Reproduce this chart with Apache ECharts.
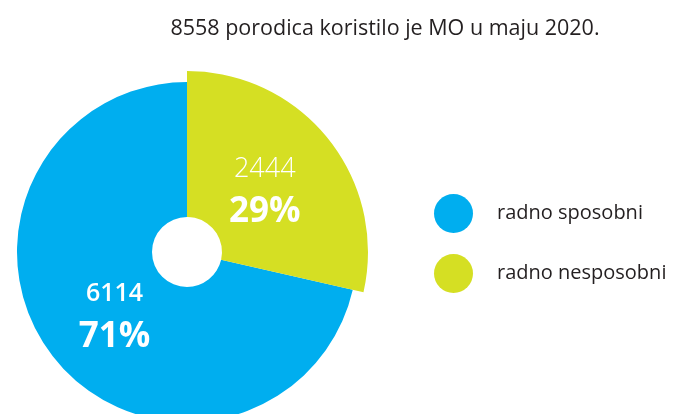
<!DOCTYPE html>
<html>
<head>
<meta charset="utf-8">
<script src="https://cdn.jsdelivr.net/npm/echarts@6/dist/echarts.min.js"></script>
<style>
  html, body { margin: 0; padding: 0; background: #fff; }
  #chart { width: 675px; height: 414px; }
</style>
</head>
<body>
<div id="chart"></div>
<script>
// data
const titleText = '8558 porodica koristilo je MO u maju 2020.';
const categories = ['radno sposobni', 'radno nesposobni'];
const values = [6114, 2444];
const colors = ['#00aeef', '#d5df23'];

const chart = echarts.init(document.getElementById('chart'));
const font = 'Open Sans';

const center = [187, 252];

const labelRich = {
  num: { color: '#fff', fontFamily: font, fontSize: 27, fontWeight: 300, lineHeight: 43 },
  numBold: { color: '#fff', fontFamily: font, fontSize: 25, fontWeight: 600, lineHeight: 43 },
  pct: { color: '#fff', fontFamily: font, fontSize: 35, fontWeight: 'bold', lineHeight: 43 }
};

// blue slice (smaller radius) — yellow is a blank placeholder here
const blueSeries = {
  type: 'pie',
  center: center,
  radius: [35, 170],
  startAngle: 90,
  clockwise: true,
  silent: true,
  percentPrecision: 0,
  labelLine: { show: false },
  data: [
    { name: '_gap1', value: values[1], itemStyle: { color: 'rgba(0,0,0,0)' }, label: { show: false } },
    {
      name: categories[0], value: values[0], itemStyle: { color: colors[0] },
      label: {
        show: true, position: 'inside', offset: [10, -2],
        formatter: '{numBold|{c}}\n{pct|{d}%}', rich: labelRich
      }
    }
  ]
};

// yellow slice sticks out a bit further
const yellowSeries = {
  type: 'pie',
  center: center,
  radius: [35, 181],
  startAngle: 90,
  clockwise: true,
  silent: true,
  percentPrecision: 0,
  labelLine: { show: false },
  data: [
    {
      name: categories[1], value: values[1], itemStyle: { color: colors[1] },
      label: {
        show: true, position: 'inside', offset: [-9, 8],
        formatter: '{num|{c}}\n{pct|{d}%}', rich: labelRich
      }
    },
    { name: '_gap2', value: values[0], itemStyle: { color: 'rgba(0,0,0,0)' }, label: { show: false } }
  ]
};

chart.setOption({
  animation: false,
  title: {
    text: titleText,
    left: 380,
    top: 13,
    textAlign: 'center',
    textStyle: { fontFamily: font, fontSize: 21.5, fontWeight: 'normal', color: '#231f20' }
  },
  legend: {
    orient: 'vertical',
    left: 429,
    top: 189,
    itemWidth: 39,
    itemHeight: 39,
    itemGap: 21,
    icon: 'circle',
    selectedMode: false,
    data: categories.map((c, i) => ({ name: c, itemStyle: { color: colors[i] } })),
    textStyle: { fontFamily: font, fontSize: 20, color: '#231f20', padding: [0, 0, 0, 19] }
  },
  series: [blueSeries, yellowSeries]
});
</script>
</body>
</html>
